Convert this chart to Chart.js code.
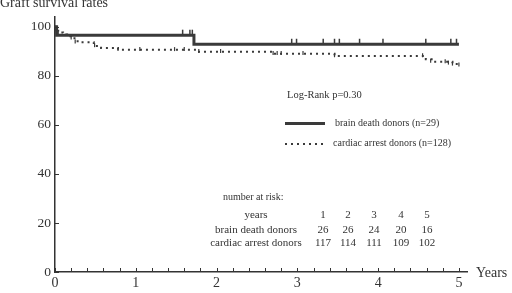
<!DOCTYPE html>
<html>
<head>
<meta charset="utf-8">
<script src="https://cdn.jsdelivr.net/npm/chart.js@4"></script>
<style>
  html, body { margin: 0; padding: 0; background: #fff; }
</style>
</head>
<body>
<canvas id="chart" width="512" height="293"></canvas>
<script>
'use strict';

// Kaplan-Meier curves (years, graft survival %)
const brainYears = [0, 0.02, 1.72, 5.0];
const brainSurvival = [100, 96.6, 92.9, 92.9];

const cardiacYears = [0, 0.01, 0.04, 0.1, 0.15, 0.2, 0.28, 0.48, 0.57, 0.78, 1.77, 2.69, 3.46, 4.59, 4.69, 4.92, 5.0];
const cardiacSurvival = [100, 98.4, 97.7, 96.9, 96.1, 95.3, 93.7, 92.2, 91.4, 90.6, 89.8, 89.0, 88.1, 86.8, 85.8, 84.8, 84.8];

// censored observations (tick marks)
const brainCensorYears = [1.58, 1.67, 1.70, 2.93, 2.99, 3.32, 3.46, 3.52, 3.77, 4.06, 4.59, 4.90, 4.97];
const brainCensorSurvival = [97.6, 97.6, 97.6, 93.9, 93.9, 93.9, 93.9, 93.9, 93.9, 93.9, 93.9, 93.9, 93.9];

const cardiacCensorYears = [0.01, 0.02, 0.04, 0.2, 0.25, 0.49, 0.78, 1.05, 1.48, 1.6, 1.78, 2.05, 2.7, 2.75, 2.8, 3.07, 3.46, 4.55, 4.65, 4.83, 4.87, 4.92, 5.0];
const cardiacCensorSurvival = [99.0, 98.6, 97.9, 95.6, 94.0, 92.5, 90.9, 90.9, 90.9, 90.9, 90.1, 90.1, 89.3, 89.3, 89.3, 89.3, 88.4, 88.4, 86.2, 86.0, 85.4, 85.0, 84.6];

// number at risk table
const riskYears = [1, 2, 3, 4, 5];
const riskBrain = [26, 26, 24, 20, 16];
const riskCardiac = [117, 114, 111, 109, 102];

const xTickValues = [0, 0.2, 0.4, 0.6, 0.8, 1, 1.2, 1.4, 1.6, 1.8, 2, 2.2, 2.4, 2.6, 2.8, 3, 3.2, 3.4, 3.6, 3.8, 4, 4.2, 4.4, 4.6, 4.8, 5];
const yTickValues = [0, 20, 40, 60, 80, 100];

const INK = '#333';
const SERIF = "'Liberation Serif', 'Times New Roman', serif";

Chart.defaults.font.family = SERIF;
Chart.defaults.color = INK;

function toPoints(xs, ys) {
  return xs.map((x, i) => ({x: x, y: ys[i]}));
}

// Tick marks point into the plot area, like the original figure.
const inwardTicks = {
  id: 'inwardTicks',
  afterDraw(chart) {
    const {ctx, scales: {x, y}, chartArea} = chart;
    ctx.save();
    ctx.strokeStyle = INK;
    ctx.lineWidth = 1;
    for (const t of x.ticks) {
      const px = Math.round(x.getPixelForValue(t.value)) + 0.5;
      ctx.beginPath();
      ctx.moveTo(px, chartArea.bottom);
      ctx.lineTo(px, chartArea.bottom - 4);
      ctx.stroke();
    }
    for (const t of y.ticks) {
      const py = Math.round(y.getPixelForValue(t.value)) + 0.5;
      ctx.beginPath();
      ctx.moveTo(chartArea.left, py);
      ctx.lineTo(chartArea.left + 4, py);
      ctx.stroke();
    }
    ctx.restore();
  }
};

// Titles, legend and the number-at-risk table.
const annotations = {
  id: 'annotations',
  afterDraw(chart) {
    const ctx = chart.ctx;
    ctx.save();
    ctx.fillStyle = INK;
    ctx.textBaseline = 'alphabetic';

    ctx.font = '14px ' + SERIF;
    ctx.textAlign = 'left';
    ctx.fillText('Graft survival rates', 0, 7);
    ctx.fillText('Years', 476, 277);

    ctx.font = '10.5px ' + SERIF;
    ctx.fillText('Log-Rank p=0.30', 287, 98);

    // legend
    ctx.strokeStyle = '#3a3a3a';
    ctx.lineWidth = 3;
    ctx.beginPath();
    ctx.moveTo(285, 123.5);
    ctx.lineTo(325, 123.5);
    ctx.stroke();
    ctx.lineWidth = 2;
    ctx.setLineDash([2, 4]);
    ctx.beginPath();
    ctx.moveTo(285, 144);
    ctx.lineTo(325, 144);
    ctx.stroke();
    ctx.setLineDash([]);

    ctx.font = '10px ' + SERIF;
    ctx.textBaseline = 'middle';
    ctx.fillText('brain death donors (n=29)', 335, 123);
    ctx.fillText('cardiac arrest donors (n=128)', 333, 143);

    // number at risk
    ctx.fillText('number at risk:', 223, 197);
    ctx.font = '11px ' + SERIF;
    ctx.textAlign = 'center';
    const colX = [323, 348, 374, 401, 427];
    const rows = [
      ['years', riskYears, 215],
      ['brain death donors', riskBrain, 230],
      ['cardiac arrest donors', riskCardiac, 243]
    ];
    for (const [label, values, rowY] of rows) {
      ctx.fillText(label, 256, rowY);
      values.forEach((v, i) => ctx.fillText(String(v), colX[i], rowY));
    }
    ctx.restore();
  }
};

new Chart(document.getElementById('chart'), {
  type: 'line',
  data: {
    datasets: [
      {
        label: 'brain death donors (n=29)',
        data: toPoints(brainYears, brainSurvival),
        stepped: true,
        borderColor: '#3a3a3a',
        borderWidth: 3,
        pointRadius: 0
      },
      {
        label: 'cardiac arrest donors (n=128)',
        data: toPoints(cardiacYears, cardiacSurvival),
        stepped: true,
        borderColor: '#3a3a3a',
        borderWidth: 2,
        borderDash: [2, 4],
        pointRadius: 0
      },
      {
        type: 'scatter',
        label: 'brain censored',
        data: toPoints(brainCensorYears, brainCensorSurvival),
        pointStyle: 'line',
        rotation: 90,
        pointRadius: 3,
        borderColor: '#3a3a3a',
        borderWidth: 1.5
      },
      {
        type: 'scatter',
        label: 'cardiac censored',
        data: toPoints(cardiacCensorYears, cardiacCensorSurvival),
        pointStyle: 'line',
        rotation: 90,
        pointRadius: 2,
        borderColor: '#3a3a3a',
        borderWidth: 1.2
      }
    ]
  },
  options: {
    responsive: false,
    animation: false,
    layout: {padding: {top: 17, right: 45, left: 0, bottom: 0}},
    plugins: {
      legend: {display: false},
      tooltip: {enabled: false}
    },
    scales: {
      x: {
        type: 'linear',
        min: 0,
        max: 5.1,
        afterBuildTicks: (scale) => {
          scale.ticks = xTickValues.map(v => ({value: v}));
        },
        afterFit: (scale) => { scale.height = 21; },
        grid: {drawOnChartArea: false, drawTicks: false},
        border: {display: true, color: INK, width: 1.5},
        ticks: {
          autoSkip: false,
          maxRotation: 0,
          padding: 3,
          font: {size: 14},
          callback: (v) => Math.abs(v - Math.round(v)) < 1e-6 ? String(Math.round(v)) : ''
        }
      },
      y: {
        min: 0,
        max: 104,
        afterBuildTicks: (scale) => {
          scale.ticks = yTickValues.map(v => ({value: v}));
        },
        afterFit: (scale) => { scale.width = 55; },
        grid: {drawOnChartArea: false, drawTicks: false},
        border: {display: true, color: INK, width: 1.5},
        ticks: {
          padding: 4,
          font: {size: 13.5}
        }
      }
    }
  },
  plugins: [inwardTicks, annotations]
});
</script>
</body>
</html>
